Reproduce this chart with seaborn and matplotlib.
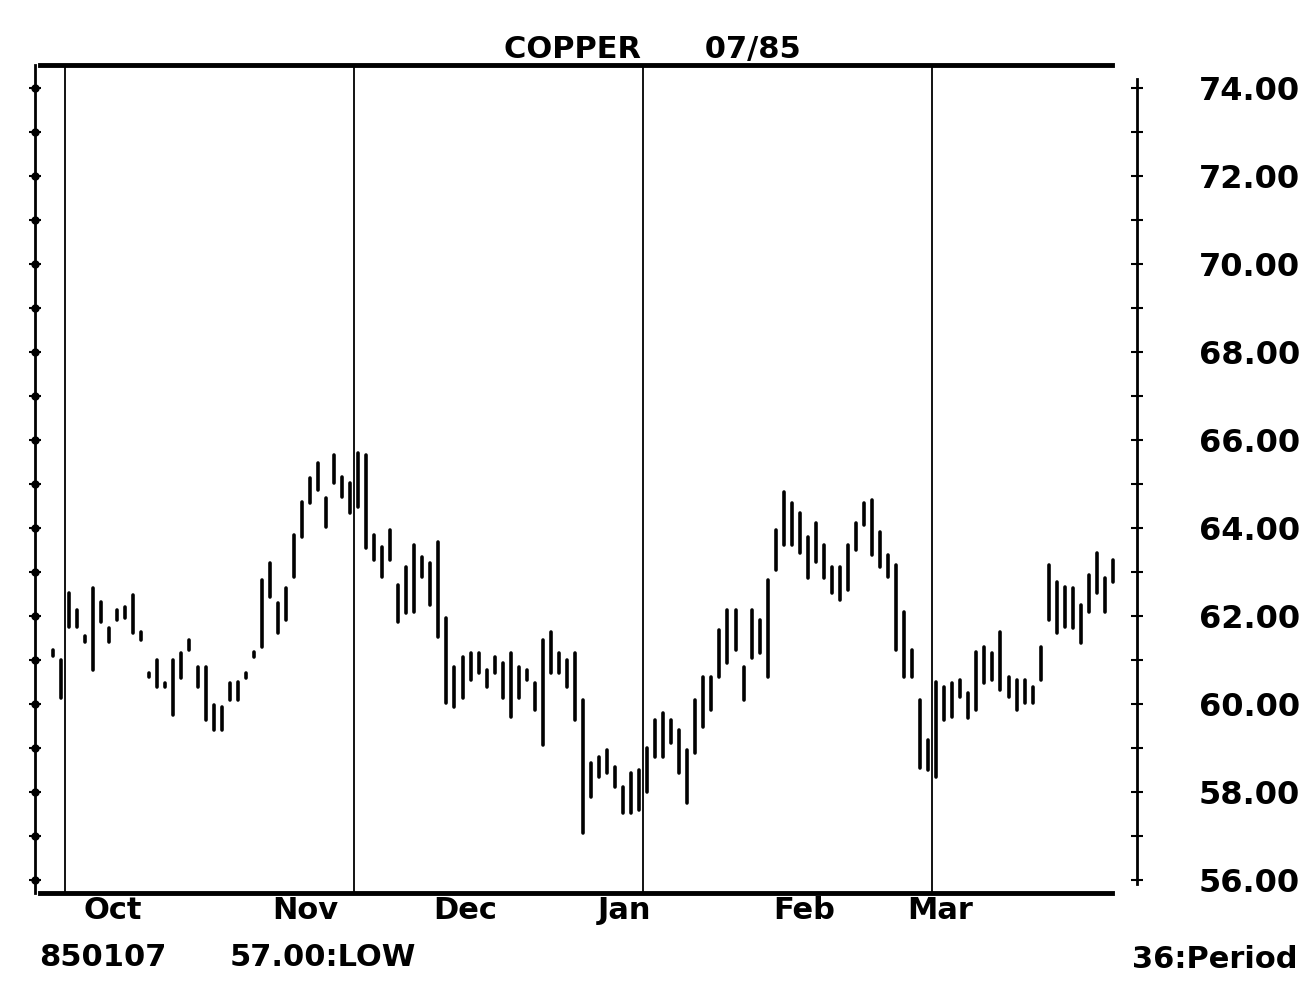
import seaborn as sns
import matplotlib.pyplot as plt
import matplotlib.ticker as ticker
import pandas as pd
import numpy as np

# daily high / low of the copper contract, one bar per trading day
highs = [
    61.23, 61.00, 62.52, 62.14, 61.55, 62.64, 62.32, 61.73, 62.14, 62.20,
    62.48, 61.64, 60.70, 61.00, 60.48, 61.00, 61.16, 61.45, 60.84, 60.84,
    59.98, 59.93, 60.48, 60.50, 60.70, 61.18, 62.82, 63.20, 62.30, 62.64,
    63.84, 64.59, 65.14, 65.48, 64.68, 65.66, 65.16, 65.02, 65.70, 65.66,
    63.84, 63.57, 63.95, 62.70, 63.11, 63.61, 63.34, 63.20, 63.68, 61.95,
    60.84, 61.07, 61.16, 61.16, 60.77, 61.07, 60.93, 61.16, 60.84, 60.77,
    60.48, 61.45, 61.64, 61.16, 61.00, 61.16, 60.09, 58.66, 58.80, 58.95,
    58.57, 58.11, 58.43, 58.50, 59.00, 59.64, 59.80, 59.64, 59.41, 58.95,
    60.09, 60.61, 60.61, 61.68, 62.14, 62.14, 60.84, 62.14, 61.91, 62.82,
    63.95, 64.82, 64.57, 64.34, 63.80, 64.11, 63.61, 63.11, 63.11, 63.61,
    64.11, 64.57, 64.64, 63.91, 63.39, 63.16, 62.09, 61.23, 60.09, 59.18,
    60.50, 60.39, 60.48, 60.55, 60.25, 61.18, 61.30, 61.16, 61.64, 60.61,
    60.55, 60.55, 60.39, 61.30, 63.16, 62.77, 62.66, 62.64, 62.25, 62.93,
    63.43, 62.86, 63.27,
]
lows = [
    61.09, 60.14, 61.75, 61.75, 61.40, 60.77, 61.86, 61.41, 61.91, 61.95,
    61.61, 61.45, 60.61, 60.39, 60.39, 59.75, 60.59, 61.23, 60.39, 59.64,
    59.41, 59.41, 60.09, 60.10, 60.59, 61.07, 61.30, 62.43, 61.61, 61.91,
    62.89, 63.80, 64.57, 64.86, 64.02, 65.02, 64.70, 64.34, 64.48, 63.55,
    63.27, 62.89, 63.27, 61.86, 62.07, 62.09, 62.89, 62.25, 61.52, 60.02,
    59.93, 60.14, 60.55, 60.70, 60.39, 60.70, 60.14, 59.70, 60.14, 60.55,
    59.86, 59.07, 60.70, 60.70, 60.39, 59.64, 57.07, 57.89, 58.34, 58.43,
    58.11, 57.52, 57.52, 57.59, 58.00, 58.80, 58.80, 59.11, 58.43, 57.75,
    58.89, 59.48, 59.86, 60.61, 60.93, 61.23, 60.09, 61.05, 61.16, 60.61,
    63.05, 63.61, 63.61, 63.43, 62.86, 63.23, 62.86, 62.52, 62.36, 62.59,
    63.50, 64.07, 63.39, 63.11, 62.89, 61.23, 60.61, 60.61, 58.55, 58.50,
    58.34, 59.64, 59.70, 60.16, 59.68, 59.86, 60.48, 60.55, 60.32, 60.16,
    59.86, 60.02, 60.02, 60.55, 61.91, 61.61, 61.75, 61.73, 61.39, 62.09,
    62.52, 62.09, 62.77,
]
days = np.arange(len(highs))

months = ["Oct", "Nov", "Dec", "Jan", "Feb", "Mar"]
month_pos = [7.5, 31.4, 51.3, 71.2, 93.6, 110.5]
period_lines = [1.5, 37.5, 73.5, 109.5]

price_ticks = [56, 58, 60, 62, 64, 66, 68, 70, 72, 74]
price_labels = ["56.00", "58.00", "60.00", "62.00", "64.00",
                "66.00", "68.00", "70.00", "72.00", "74.00"]
minor_ticks = list(range(56, 75))

# long table: two rows per day so each day draws one vertical bar
df = pd.DataFrame({
    "day": np.concatenate([days, days]),
    "price": np.concatenate([highs, lows]),
})

sns.set_style("white", {
    "axes.edgecolor": "black", "text.color": "black",
    "xtick.color": "black", "ytick.color": "black",
})
plt.rcParams["font.family"] = ["DejaVu Sans"]

fig = plt.figure(figsize=(13.05, 9.9), dpi=100)
ax = fig.add_axes([35 / 1305, 97 / 990, 1102 / 1305, 828 / 990])

sns.lineplot(
    data=df, x="day", y="price", units="day", estimator=None,
    color="black", lw=2.6, sort=False, ax=ax, solid_capstyle="round",
)

for p in period_lines:
    ax.axvline(p, color="black", lw=1.3)

ax.set_xlim(-2.24, 135.0)
ax.set_ylim(55.705, 74.523)

# frame: heavy top/bottom rules, plain axis lines either side
for s in ["top", "bottom"]:
    ax.spines[s].set_linewidth(3.5)
    ax.spines[s].set_bounds(-1.6, 131.9)
ax.spines["left"].set_linewidth(2)
ax.spines["right"].set_linewidth(2)
ax.spines["right"].set_bounds(55.9, 74.2)

ax.set_xticks(month_pos)
ax.set_xticklabels(months, fontsize=22, fontweight="bold", color="black")
ax.tick_params(axis="x", length=0, pad=2)

ax.yaxis.set_major_locator(ticker.FixedLocator(price_ticks))
ax.yaxis.set_minor_locator(ticker.FixedLocator(minor_ticks))
ax.set_yticklabels(price_labels, fontsize=23, fontweight="bold", color="black")
ax.tick_params(axis="y", which="both", left=True, right=True,
               direction="inout", length=9, width=1.5,
               labelleft=False, labelright=True, pad=40)

# dots on the left scale
ax.plot(np.zeros(len(minor_ticks)), minor_ticks, "o", color="black", ms=5,
        transform=ax.get_yaxis_transform(), clip_on=False)

ax.set_xlabel("")
ax.set_ylabel("")
ax.grid(False)

fig.text(0.5, 1 - 58 / 990, "COPPER      07/85", ha="center", va="baseline",
         fontsize=22, fontweight="bold")
fig.text(103 / 1305, 1 - 958 / 990, "850107", ha="center", va="center",
         fontsize=22, fontweight="bold")
fig.text(323 / 1305, 1 - 958 / 990, "57.00:LOW", ha="center", va="center",
         fontsize=22, fontweight="bold")
fig.text(1298 / 1305, 1 - 960 / 990, "36:Period", ha="right", va="center",
         fontsize=22, fontweight="bold")

plt.savefig("out.png", dpi=100)
